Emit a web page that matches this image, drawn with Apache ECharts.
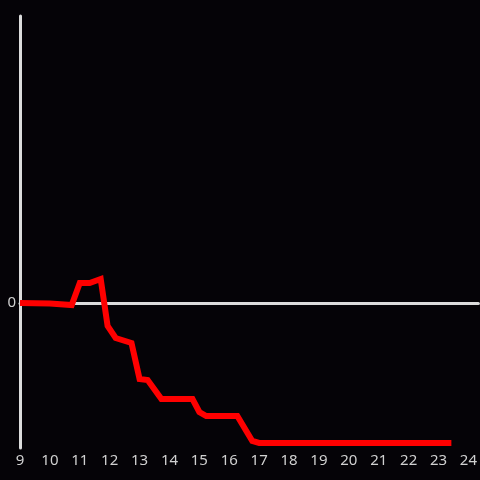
<!DOCTYPE html>
<html>
<head>
<meta charset="utf-8">
<script src="https://cdn.jsdelivr.net/npm/echarts@6/dist/echarts.min.js"></script>
<style>
  html, body { margin: 0; padding: 0; background: #050307; }
  #chart { width: 480px; height: 480px; }
</style>
</head>
<body>
<div id="chart"></div>
<script>
// time of day (hours) and value
const hours = [9, 10, 10.73, 11.0, 11.33, 11.7, 11.93, 12.2, 12.73, 13.0, 13.27, 13.73, 14.77, 15.0, 15.23, 16.27, 16.77, 17.0, 23.43];
const values = [0, -0.5, -2, 20, 20, 24, -23, -35, -40, -76, -77, -96, -96, -109, -113, -113, -138, -140, -140];

const chart = echarts.init(document.getElementById("chart"));

const option = {
  backgroundColor: "#050307",
  animation: false,
  grid: { left: 20, right: 0, top: 16, bottom: 32, containLabel: false },
  xAxis: {
    type: "value",
    min: 9,
    max: 24.333,
    interval: 1,
    axisLine: { onZero: true, lineStyle: { color: "#dcdcdc", width: 3 } },
    axisTick: { show: false },
    splitLine: { show: false },
    axisLabel: {
      color: "#d0d0d0",
      fontSize: 15,
      fontFamily: "Noto Sans",
      margin: 5,
      showMaxLabel: false,
      formatter: function (v) { return Number.isInteger(v) ? String(v) : ""; }
    }
  },
  yAxis: {
    type: "value",
    min: -145,
    max: 287,
    interval: 145,
    axisLine: { show: true, onZero: false, lineStyle: { color: "#dcdcdc", width: 3 } },
    axisTick: { show: false },
    splitLine: { show: false },
    axisLabel: {
      color: "#d0d0d0",
      fontSize: 15,
      fontFamily: "Noto Sans",
      margin: 4,
      showMinLabel: false,
      formatter: function (v) { return v === 0 ? "0" : ""; }
    }
  },
  series: [
    {
      type: "line",
      data: hours.map((h, i) => [h, values[i]]),
      showSymbol: false,
      lineStyle: { color: "#ff0000", width: 6, join: "miter" },
      itemStyle: { color: "#ff0000" }
    }
  ]
};

chart.setOption(option);
</script>
</body>
</html>
